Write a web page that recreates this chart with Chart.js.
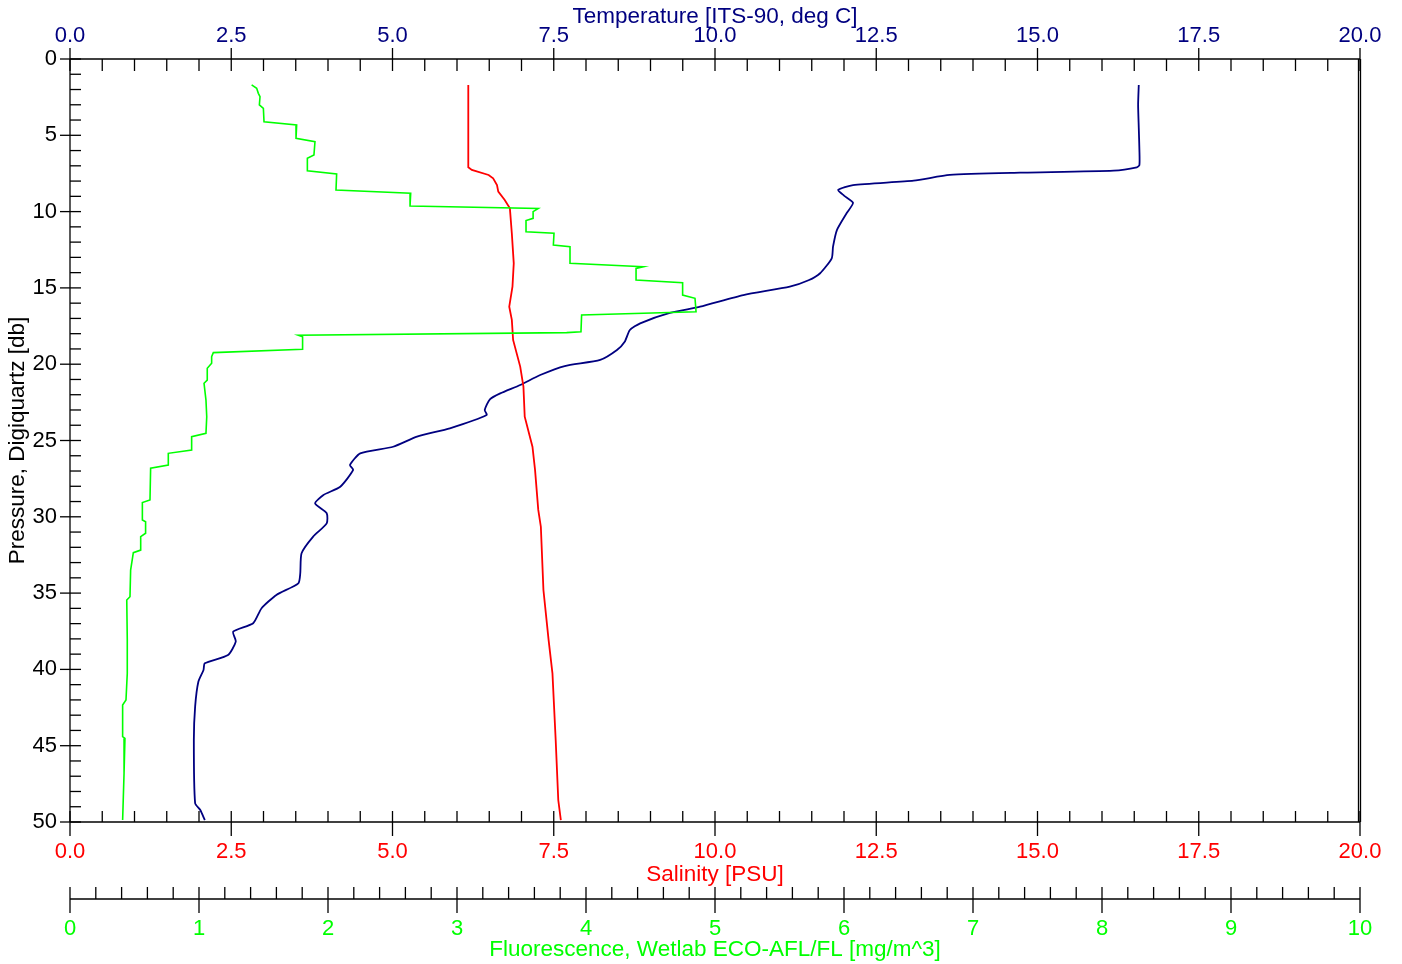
<!DOCTYPE html>
<html>
<head>
<meta charset="utf-8">
<script src="https://cdn.jsdelivr.net/npm/chart.js@4.4.0/dist/chart.umd.min.js"></script>
<style>
  html, body { margin: 0; padding: 0; background: #fff; }
  #wrap { width: 1402px; height: 964px; }
</style>
</head>
<body>
<div id="wrap"><canvas id="ctd"></canvas></div>
<script>
// Temperature profile [ITS-90, deg C] vs pressure [db]
const tempPressure = [1.70, 3.0, 4.5, 5.96, 6.95, 7.10, 7.32, 7.45, 7.60, 7.97, 8.26, 8.58, 8.95, 9.42, 10.11, 11.21, 12.30, 13.06, 14.04, 14.50, 14.92, 15.47, 16.23, 16.64, 17.32, 17.76, 18.53, 19.07, 19.72, 20.12, 20.71, 21.36, 21.91, 22.30, 23.00, 23.33, 24.20, 24.75, 25.41, 25.84, 26.61, 26.93, 28.03, 28.57, 29.12, 29.77, 30.43, 31.30, 32.39, 33.70, 34.36, 35.12, 35.99, 36.98, 37.53, 38.18, 39.06, 39.60, 40.04, 40.81, 42.44, 44.63, 48.77, 49.21, 49.87];
const tempValues = [16.57, 16.56, 16.57, 16.58, 16.58, 16.54, 16.18, 14.73, 13.64, 13.08, 12.14, 11.91, 12.00, 12.14, 12.04, 11.89, 11.83, 11.81, 11.63, 11.45, 11.16, 10.44, 9.77, 9.30, 8.84, 8.68, 8.60, 8.48, 8.22, 7.67, 7.29, 6.98, 6.67, 6.51, 6.43, 6.46, 5.89, 5.38, 5.01, 4.50, 4.34, 4.39, 4.19, 3.93, 3.80, 3.98, 3.98, 3.77, 3.59, 3.57, 3.54, 3.20, 2.97, 2.84, 2.53, 2.57, 2.45, 2.09, 2.07, 1.99, 1.94, 1.92, 1.94, 2.02, 2.09];

// Salinity [PSU]
const salPressure = [1.70, 7.10, 7.27, 7.60, 7.82, 8.26, 8.69, 9.24, 9.79, 11.42, 13.39, 14.92, 16.23, 17.10, 18.41, 20.16, 21.47, 23.44, 25.41, 26.93, 29.55, 30.65, 34.80, 38.07, 40.26, 44.63, 48.56, 49.87];
const salValues = [6.175, 6.175, 6.23, 6.49, 6.56, 6.62, 6.64, 6.74, 6.82, 6.85, 6.88, 6.86, 6.81, 6.85, 6.87, 6.98, 7.03, 7.05, 7.17, 7.21, 7.26, 7.30, 7.34, 7.42, 7.48, 7.53, 7.57, 7.61];

// Fluorescence, Wetlab ECO-AFL/FL [mg/m^3]
const fluoPressure = [1.70, 1.92, 2.25, 2.47, 3.01, 3.23, 4.11, 4.32, 5.20, 5.42, 6.29, 6.51, 7.32, 7.54, 8.58, 8.80, 9.63, 9.79, 10.00, 10.44, 10.59, 11.32, 11.42, 12.19, 12.30, 13.39, 13.61, 13.72, 14.48, 14.66, 15.47, 15.68, 16.56, 16.78, 17.87, 17.93, 18.10, 18.20, 19.02, 19.24, 19.50, 19.94, 20.27, 21.04, 21.25, 22.35, 23.44, 24.53, 24.75, 25.62, 25.84, 26.61, 26.82, 28.90, 29.07, 30.21, 30.32, 31.08, 31.30, 32.18, 32.35, 33.49, 35.24, 35.45, 38.07, 40.26, 42.00, 42.33, 44.41, 44.52, 46.80, 49.87];
const fluoValues = [1.408, 1.447, 1.460, 1.473, 1.468, 1.499, 1.504, 1.757, 1.752, 1.899, 1.891, 1.840, 1.840, 2.067, 2.062, 2.641, 2.636, 3.630, 3.590, 3.590, 3.535, 3.535, 3.752, 3.747, 3.876, 3.876, 4.444, 4.388, 4.388, 4.749, 4.749, 4.845, 4.853, 3.966, 3.961, 3.850, 1.770, 1.803, 1.803, 1.111, 1.098, 1.098, 1.064, 1.064, 1.039, 1.054, 1.060, 1.054, 0.943, 0.943, 0.762, 0.762, 0.625, 0.620, 0.561, 0.561, 0.586, 0.586, 0.548, 0.548, 0.491, 0.470, 0.465, 0.440, 0.444, 0.444, 0.434, 0.408, 0.408, 0.426, 0.419, 0.408];

// tick labels
const pressureTicks = [0, 5, 10, 15, 20, 25, 30, 35, 40, 45, 50];
const tempTicks = [0, 2.5, 5, 7.5, 10, 12.5, 15, 17.5, 20];
const salTicks = [0, 2.5, 5, 7.5, 10, 12.5, 15, 17.5, 20];
const fluoTicks = [0, 1, 2, 3, 4, 5, 6, 7, 8, 9, 10];

const NAVY = '#000080';
const RED = '#ff0000';
const GREEN = '#00ff00';
const FONT = 'Liberation Sans, Arial, sans-serif';

const toPoints = (ps, vs) => ps.map((p, i) => ({ x: vs[i], y: p }));

// draw inward tick marks and axis lines like the SBE plot
const axisDecor = {
  id: 'axisDecor',
  afterDraw(chart) {
    const { ctx, chartArea: ca, scales } = chart;
    ctx.save();
    ctx.strokeStyle = '#000';
    ctx.lineWidth = 1.3;
    const line = (x1, y1, x2, y2) => {
      ctx.beginPath(); ctx.moveTo(x1, y1); ctx.lineTo(x2, y2); ctx.stroke();
    };
    // axis lines
    line(ca.left, ca.top, ca.right, ca.top);
    line(ca.left, ca.bottom, ca.right, ca.bottom);
    line(ca.left, ca.top, ca.left, ca.bottom);
    line(ca.right - 1.5, ca.top, ca.right - 1.5, ca.bottom);
    line(ca.right + 0.5, ca.top, ca.right + 0.5, ca.bottom);

    // top: temperature
    const xT = scales.xT;
    for (let v = 0; v <= 20.001; v += 0.5) {
      const x = xT.getPixelForValue(v);
      const major = Math.abs(v / 2.5 - Math.round(v / 2.5)) < 1e-6;
      line(x, major ? ca.top - 11 : ca.top, x, ca.top + 12);
    }
    // bottom: salinity
    const xS = scales.xS;
    for (let v = 0; v <= 20.001; v += 0.5) {
      const x = xS.getPixelForValue(v);
      const major = Math.abs(v / 2.5 - Math.round(v / 2.5)) < 1e-6;
      line(x, ca.bottom - 11, x, major ? ca.bottom + 14 : ca.bottom);
    }
    // fluorescence axis
    const xF = scales.xF;
    const fy = xF.top + 7;
    line(xF.getPixelForValue(0), fy, xF.getPixelForValue(10), fy);
    for (let i = 0; i <= 50; i++) {
      const x = xF.getPixelForValue(i * 0.2);
      const major = i % 5 === 0;
      line(x, fy - 12, x, major ? fy + 14 : fy);
    }
    // left: pressure
    const y = scales.y;
    for (let p = 0; p <= 50; p++) {
      const py = y.getPixelForValue(p);
      const major = p % 5 === 0;
      line(major ? ca.left - 10 : ca.left, py, ca.left + 11, py);
    }
    ctx.restore();
  }
};

const tickFont = { family: FONT, size: 22 };
const titleFont = { family: FONT, size: 22.5 };

new Chart(document.getElementById('ctd'), {
  type: 'scatter',
  data: {
    datasets: [
      {
        label: 'Fluorescence',
        data: toPoints(fluoPressure, fluoValues),
        xAxisID: 'xF', yAxisID: 'y',
        showLine: true, borderColor: GREEN, borderWidth: 1.6,
        pointRadius: 0, tension: 0
      },
      {
        label: 'Salinity',
        data: toPoints(salPressure, salValues),
        xAxisID: 'xS', yAxisID: 'y',
        showLine: true, borderColor: RED, borderWidth: 1.8,
        pointRadius: 0, tension: 0
      },
      {
        label: 'Temperature',
        data: toPoints(tempPressure, tempValues),
        xAxisID: 'xT', yAxisID: 'y',
        showLine: true, borderColor: NAVY, borderWidth: 1.8,
        pointRadius: 0, tension: 0.2
      }
    ]
  },
  options: {
    responsive: true,
    maintainAspectRatio: false,
    animation: false,
    layout: { padding: { left: 0, right: 42, top: 0, bottom: 0 } },
    plugins: {
      legend: { display: false },
      tooltip: { enabled: false }
    },
    scales: {
      y: {
        type: 'linear', position: 'left', reverse: true,
        min: 0, max: 50,
        afterFit: s => { s.width = 70; },
        afterBuildTicks: s => { s.ticks = pressureTicks.map(v => ({ value: v })); },
        grid: { display: false, drawTicks: false },
        border: { display: false },
        ticks: { font: tickFont, color: '#000', padding: 13 },
        title: {
          display: true, text: 'Pressure, Digiquartz [db]',
          font: titleFont, color: '#000', padding: { top: 4, bottom: 0 }
        }
      },
      xT: {
        type: 'linear', position: 'top',
        min: 0, max: 20,
        afterFit: s => { s.height = 59; },
        afterBuildTicks: s => { s.ticks = tempTicks.map(v => ({ value: v })); },
        grid: { display: false, drawTicks: false },
        border: { display: false },
        ticks: { font: tickFont, color: NAVY, padding: 10, maxRotation: 0, autoSkip: false, callback: v => v.toFixed(1) },
        title: {
          display: true, text: 'Temperature [ITS-90, deg C]',
          font: titleFont, color: NAVY, padding: { top: 3, bottom: 0 }
        }
      },
      xS: {
        type: 'linear', position: 'bottom', weight: 0,
        min: 0, max: 20,
        afterFit: s => { s.height = 70; },
        afterBuildTicks: s => { s.ticks = salTicks.map(v => ({ value: v })); },
        grid: { display: false, drawTicks: false },
        border: { display: false },
        ticks: { font: tickFont, color: RED, padding: 17, maxRotation: 0, autoSkip: false, callback: v => v.toFixed(1) },
        title: {
          display: true, text: 'Salinity [PSU]',
          font: titleFont, color: RED, padding: { top: 0, bottom: 4 }
        }
      },
      xF: {
        type: 'linear', position: 'bottom', weight: 1,
        min: 0, max: 10,
        afterFit: s => { s.height = 72; },
        afterBuildTicks: s => { s.ticks = fluoTicks.map(v => ({ value: v })); },
        grid: { display: false, drawTicks: false },
        border: { display: false },
        ticks: { font: tickFont, color: GREEN, padding: 24, maxRotation: 0, autoSkip: false, callback: v => String(v) },
        title: {
          display: true, text: 'Fluorescence, Wetlab ECO-AFL/FL [mg/m^3]',
          font: titleFont, color: GREEN, padding: { top: 0, bottom: 1 }
        }
      }
    }
  },
  plugins: [axisDecor]
});
</script>
</body>
</html>
